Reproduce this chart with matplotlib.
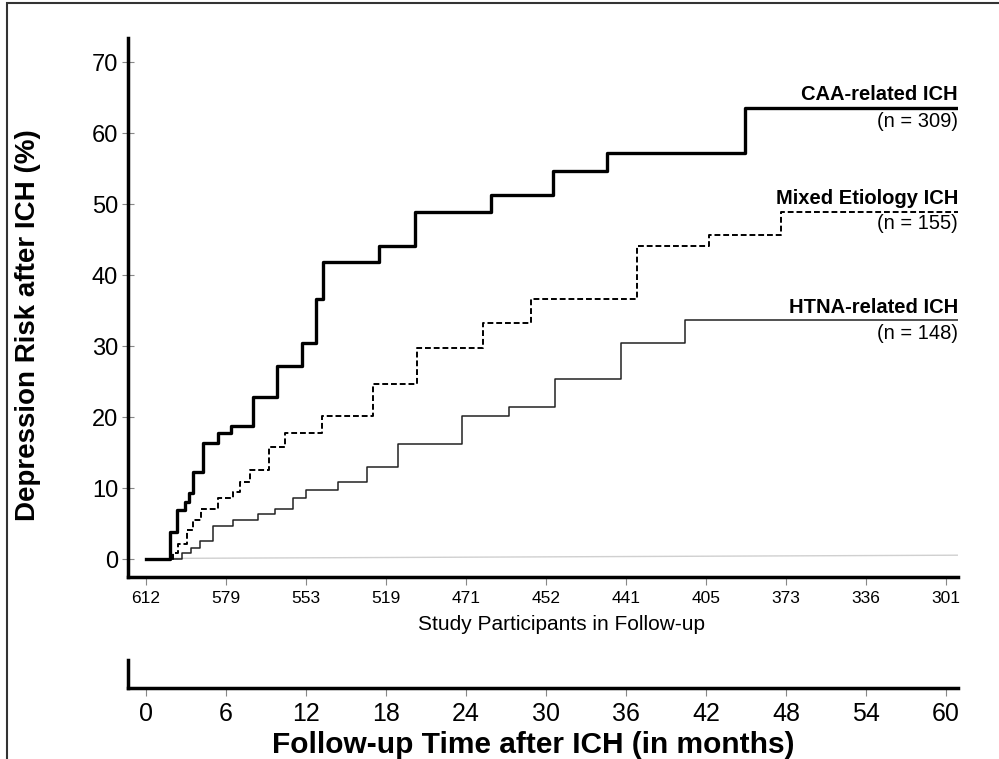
import matplotlib
matplotlib.use("Agg")
import matplotlib.pyplot as plt
from matplotlib.patches import Rectangle

plt.rcParams['font.family'] = ['Liberation Sans', 'DejaVu Sans']

# cumulative risk step curves (months, %)
caa_t = [0, 1.8, 2.3, 2.9, 3.25, 3.55, 4.3, 5.4, 6.4, 8.05, 9.85, 11.7, 12.75,
         13.3, 17.5, 20.2, 25.9, 30.5, 34.6, 44.9, 61]
caa_y = [0, 3.8, 6.9, 8.1, 9.3, 12.2, 16.4, 17.7, 18.8, 22.9, 27.2, 30.5, 36.7,
         41.8, 44.1, 48.9, 51.3, 54.7, 57.2, 63.5, 63.5]

mixed_t = [0, 2.0, 2.4, 3.05, 3.55, 4.1, 5.4, 6.55, 7.05, 7.8, 9.2, 10.4, 13.2,
           17.0, 20.3, 25.3, 28.9, 36.8, 42.2, 47.6, 61]
mixed_y = [0, 0.8, 2.1, 4.1, 5.5, 7.1, 8.6, 9.5, 10.9, 12.5, 15.8, 17.7, 20.2,
           24.6, 29.7, 33.2, 36.7, 44.1, 45.7, 48.9, 48.9]

htna_t = [0, 2.7, 3.35, 4.05, 5.0, 6.55, 8.4, 9.7, 11.0, 12.0, 14.4, 16.6, 18.9,
          23.7, 27.2, 30.7, 35.6, 40.4, 61]
htna_y = [0, 0.9, 1.6, 2.6, 4.6, 5.5, 6.3, 7.1, 8.6, 9.7, 10.9, 13.0, 16.2,
          20.2, 21.4, 25.4, 30.4, 33.7, 33.7]

ref_t = [1.8, 61]
ref_y = [0.1, 0.55]

month_ticks = [0, 6, 12, 18, 24, 30, 36, 42, 48, 54, 60]
at_risk = ['612', '579', '553', '519', '471', '452', '441', '405', '373', '336', '301']

labels = ['CAA-related ICH', 'Mixed Etiology ICH', 'HTNA-related ICH']
counts = ['(n = 309)', '(n = 155)', '(n = 148)']
label_y = [65.4, 50.8, 35.5]
count_y = [61.7, 47.2, 31.8]

narrow = ['Liberation Sans Narrow', 'Liberation Sans', 'DejaVu Sans']

fig = plt.figure(figsize=(9.99, 7.59), dpi=100)
fig.patches.append(Rectangle((7 / 999, -0.1), 1.2, 1 - 3 / 759 + 0.1,
                             transform=fig.transFigure, fill=False,
                             edgecolor='#333333', linewidth=1.5))

ax = fig.add_axes([0.128, 0.240, 0.831, 0.710])
ax.plot(ref_t, ref_y, color='#d0d0d0', linewidth=1)
ax.step(htna_t, htna_y, where='post', color='#222222', linewidth=1.1)
ax.step(mixed_t, mixed_y, where='post', color='black', linewidth=1.4,
        linestyle=(0, (3, 1.5)))
ax.step(caa_t, caa_y, where='post', color='black', linewidth=2.4)

ax.set_xlim(-1.35, 60.9)
ax.set_ylim(-2.5, 73.4)
ax.set_yticks(range(0, 80, 10))
ax.set_xticks(month_ticks)
ax.set_xticklabels(at_risk, family=narrow, fontsize=12.5)
ax.tick_params(axis='y', labelsize=17, direction='inout', length=8,
               color='#888888', pad=3)
ax.tick_params(axis='x', direction='out', length=6, color='#888888', pad=4)
ax.spines['top'].set_visible(False)
ax.spines['right'].set_visible(False)
ax.spines['left'].set_linewidth(2.5)
ax.spines['bottom'].set_linewidth(2.5)

fig.text(28 / 999, 1 - 325 / 759, 'Depression Risk after ICH (%)', rotation=90,
         ha='center', va='center', fontsize=20, fontweight='bold')
fig.text(561 / 999, 1 - 625 / 759, 'Study Participants in Follow-up',
         ha='center', va='center', fontsize=15, family=narrow)

for name, cnt, ly, cy in zip(labels, counts, label_y, count_y):
    ax.text(60.9, ly, name, ha='right', va='center', fontsize=14.5,
            fontweight='bold')
    ax.text(60.9, cy, cnt, ha='right', va='center', fontsize=14.5)

ax2 = fig.add_axes([0.128, 0.0935, 0.831, 0.037])
ax2.set_xlim(-1.35, 60.9)
ax2.set_ylim(0, 1)
ax2.set_yticks([])
ax2.set_xticks(month_ticks)
ax2.tick_params(axis='x', labelsize=18, direction='out', length=6,
                color='#888888', pad=4)
ax2.spines['top'].set_visible(False)
ax2.spines['right'].set_visible(False)
ax2.spines['left'].set_linewidth(2.5)
ax2.spines['bottom'].set_linewidth(2.5)

fig.text(533 / 999, 1 - 745 / 759, 'Follow-up Time after ICH (in months)',
         ha='center', va='center', fontsize=21.5, fontweight='bold')

fig.savefig('out.png', dpi=100)
